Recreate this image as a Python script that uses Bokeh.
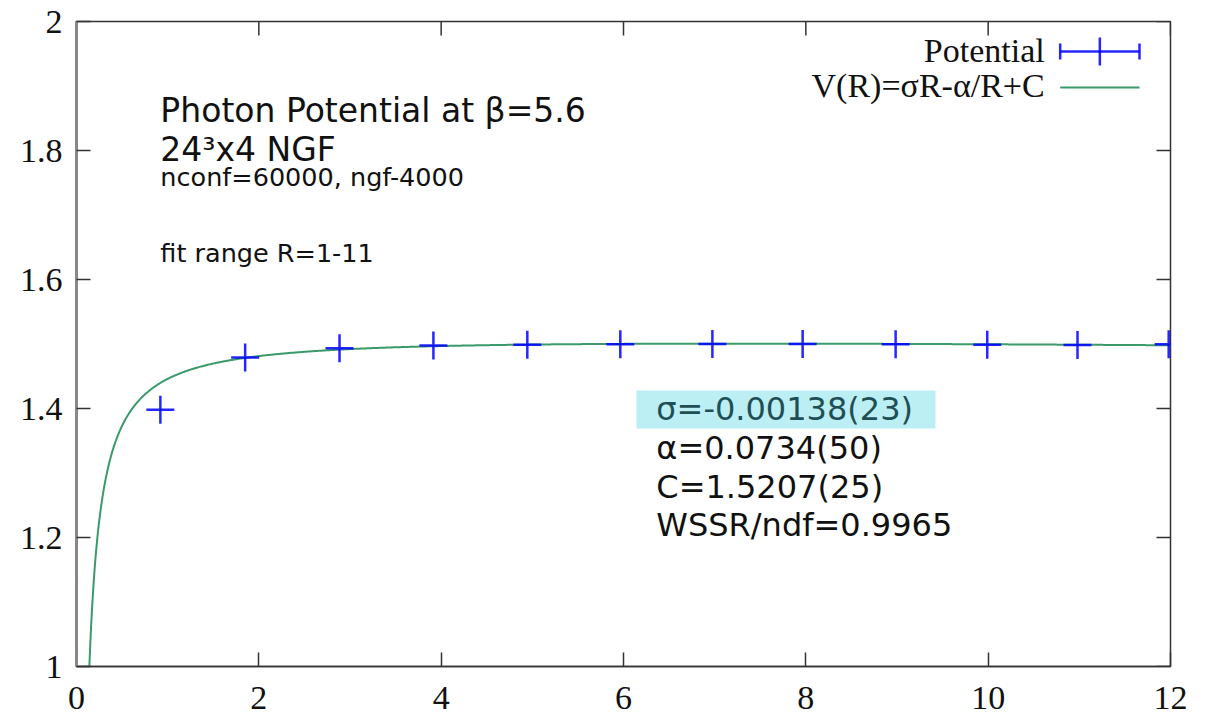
import numpy as np
from bokeh.plotting import figure
from bokeh.models import Range1d, LinearAxis, FixedTicker, Label, BoxAnnotation
from bokeh.embed import file_html
from bokeh.resources import INLINE

# ---- data ----
R = [0.92, 1.85, 2.885, 3.915, 4.945, 5.965, 6.975, 7.965, 8.985, 9.99, 10.98, 11.98]
V = [1.398, 1.479, 1.4935, 1.4975, 1.499, 1.4995, 1.5, 1.5, 1.4995, 1.499, 1.4985, 1.4995]
V_ERR = [0.0015, 0.001, 0.0008, 0.0008, 0.0008, 0.0008, 0.0008, 0.0008, 0.0008, 0.0008, 0.0008, 0.0008]

# fit parameters shown in the chart
SIGMA = -0.00138
ALPHA = 0.0734
CONST = 1.5207

X_TICKS = [0, 2, 4, 6, 8, 10, 12]
X_TICK_LABELS = ["0", "2", "4", "6", "8", "10", "12"]
Y_TICKS = [1.0, 1.2, 1.4, 1.6, 1.8, 2.0]
Y_TICK_LABELS = ["1", "1.2", "1.4", "1.6", "1.8", "2"]

TITLE_LINES = ["Photon Potential at β=5.6", "24³x4 NGF"]
INFO_LINES = ["nconf=60000, ngf-4000", "fit range R=1-11"]
FIT_LINES = ["σ=-0.00138(23)", "α=0.0734(50)", "C=1.5207(25)", "WSSR/ndf=0.9965"]
LEGEND_LABELS = ["Potential", "V(R)=σR-α/R+C"]

BLUE = "#0000ff"
GREEN = "#3a9a6a"
FRAME = "#333333"
SERIF = "Liberation Serif"
SANS = "DejaVu Sans"

W, H = 1214, 718
BL, BR, BT, BB = 76, 44, 21, 52
XMIN, XMAX, YMIN, YMAX = 0, 12, 1, 2
TICK_PX = 14

p = figure(width=W, height=H, output_backend="svg", toolbar_location=None,
           x_range=Range1d(XMIN, XMAX), y_range=Range1d(YMIN, YMAX),
           x_axis_type=None, y_axis_type=None,
           min_border_left=BL, min_border_right=BR, min_border_top=BT, min_border_bottom=BB)
p.background_fill_color = "white"
p.border_fill_color = "white"
p.outline_line_color = FRAME
p.outline_line_width = 1.5
p.grid.visible = False

def make_axis(ticks, labels, line_color=FRAME, line_width=1.5):
    return LinearAxis(ticker=FixedTicker(ticks=ticks),
                      major_label_overrides={t: l for t, l in zip(ticks, labels)},
                      major_tick_in=TICK_PX, major_tick_out=0,
                      minor_tick_in=0, minor_tick_out=0,
                      major_tick_line_color=FRAME, major_tick_line_width=1.5,
                      axis_line_color=line_color, axis_line_width=line_width,
                      major_label_text_font=SERIF, major_label_text_font_size="34px",
                      major_label_text_color="#111111")

xb = make_axis(X_TICKS, X_TICK_LABELS)
xb.major_label_standoff = 20
yl = make_axis(Y_TICKS, Y_TICK_LABELS, line_color="#888888", line_width=3)
yl.major_label_standoff = 14
p.add_layout(xb, "below")
p.add_layout(yl, "left")

# mirrored ticks on the top and right edges of the frame
fw = W - BL - BR
fh = H - BT - BB
tx = TICK_PX * (XMAX - XMIN) / fw
ty = TICK_PX * (YMAX - YMIN) / fh
p.segment(x0=X_TICKS, y0=[YMAX] * len(X_TICKS), x1=X_TICKS, y1=[YMAX - ty] * len(X_TICKS),
          line_color=FRAME, line_width=1.5)
p.segment(x0=[XMAX] * len(Y_TICKS), y0=Y_TICKS, x1=[XMAX - tx] * len(Y_TICKS), y1=Y_TICKS,
          line_color=FRAME, line_width=1.5)

# fit function curve
xf = np.linspace(0.1, 12, 1200)
yf = SIGMA * xf - ALPHA / xf + CONST
p.line(xf, yf, line_color=GREEN, line_width=2)

# data points with error bars
lo = [v - e for v, e in zip(V, V_ERR)]
hi = [v + e for v, e in zip(V, V_ERR)]
p.segment(x0=R, y0=lo, x1=R, y1=hi, line_color=BLUE, line_width=2, line_alpha=0.85)
p.scatter(R, V, marker="cross", size=28, line_color=BLUE, line_width=2.5, line_alpha=0.85)

# Bokeh's alphabetic baseline for Label sits lower than the glyph baseline;
# lift each label by a fraction of its font size (in pixels -> data units)
def lift(font_px):
    return 0.37 * font_px * (YMAX - YMIN) / fh

# ---- key (gnuplot style: label left, sample right) ----
KEY_TEXT_X = 10.62
KEY_X0, KEY_X1 = 10.79, 11.66
KEY_Y = [1.9535, 1.8977]
KEY_TEXT_Y = [1.9349, 1.882]
for lab, kty in zip(LEGEND_LABELS, KEY_TEXT_Y):
    p.add_layout(Label(x=KEY_TEXT_X, y=kty + lift(34), text=lab, text_font=SERIF, text_font_size="34px",
                       text_align="right", text_baseline="alphabetic", text_color="#111111"))
ky = KEY_Y[0]
kmid = (KEY_X0 + KEY_X1) / 2
p.segment(x0=[KEY_X0, KEY_X0, KEY_X1, kmid], y0=[ky, ky - 0.0124, ky - 0.0124, ky - 0.0217],
          x1=[KEY_X1, KEY_X0, KEY_X1, kmid], y1=[ky, ky + 0.0124, ky + 0.0124, ky + 0.0217],
          line_color=BLUE, line_width=2.5, line_alpha=0.85)
p.segment(x0=[KEY_X0], y0=[KEY_Y[1]], x1=[KEY_X1], y1=[KEY_Y[1]], line_color=GREEN, line_width=2)

# ---- annotations ----
TEXT_X = 0.92
TITLE_Y = [1.8426, 1.783]
INFO_Y = [1.744, 1.627]
for t, y in zip(TITLE_LINES, TITLE_Y):
    p.add_layout(Label(x=TEXT_X, y=y + lift(33), text=t, text_font=SANS, text_font_size="33px",
                       text_baseline="alphabetic", text_color="#111111"))
for t, y in zip(INFO_LINES, INFO_Y):
    p.add_layout(Label(x=TEXT_X, y=y + lift(25.5), text=t, text_font=SANS, text_font_size="25.5px",
                       text_baseline="alphabetic", text_color="#111111"))

# highlight box behind sigma
p.add_layout(BoxAnnotation(left=6.142, right=9.422, bottom=1.369, top=1.428,
                           fill_color="#bbeff3", fill_alpha=1.0, line_alpha=0, level="underlay"))
FIT_X = 6.36
FIT_Y = [1.3814, 1.321, 1.2605, 1.2005]
FIT_COLORS = ["#1f4f55", "#111111", "#111111", "#111111"]
for t, y, c in zip(FIT_LINES, FIT_Y, FIT_COLORS):
    p.add_layout(Label(x=FIT_X, y=y + lift(32), text=t, text_font=SANS, text_font_size="32px",
                       text_baseline="alphabetic", text_color=c))

open("out.html", "w").write(file_html(p, INLINE))
